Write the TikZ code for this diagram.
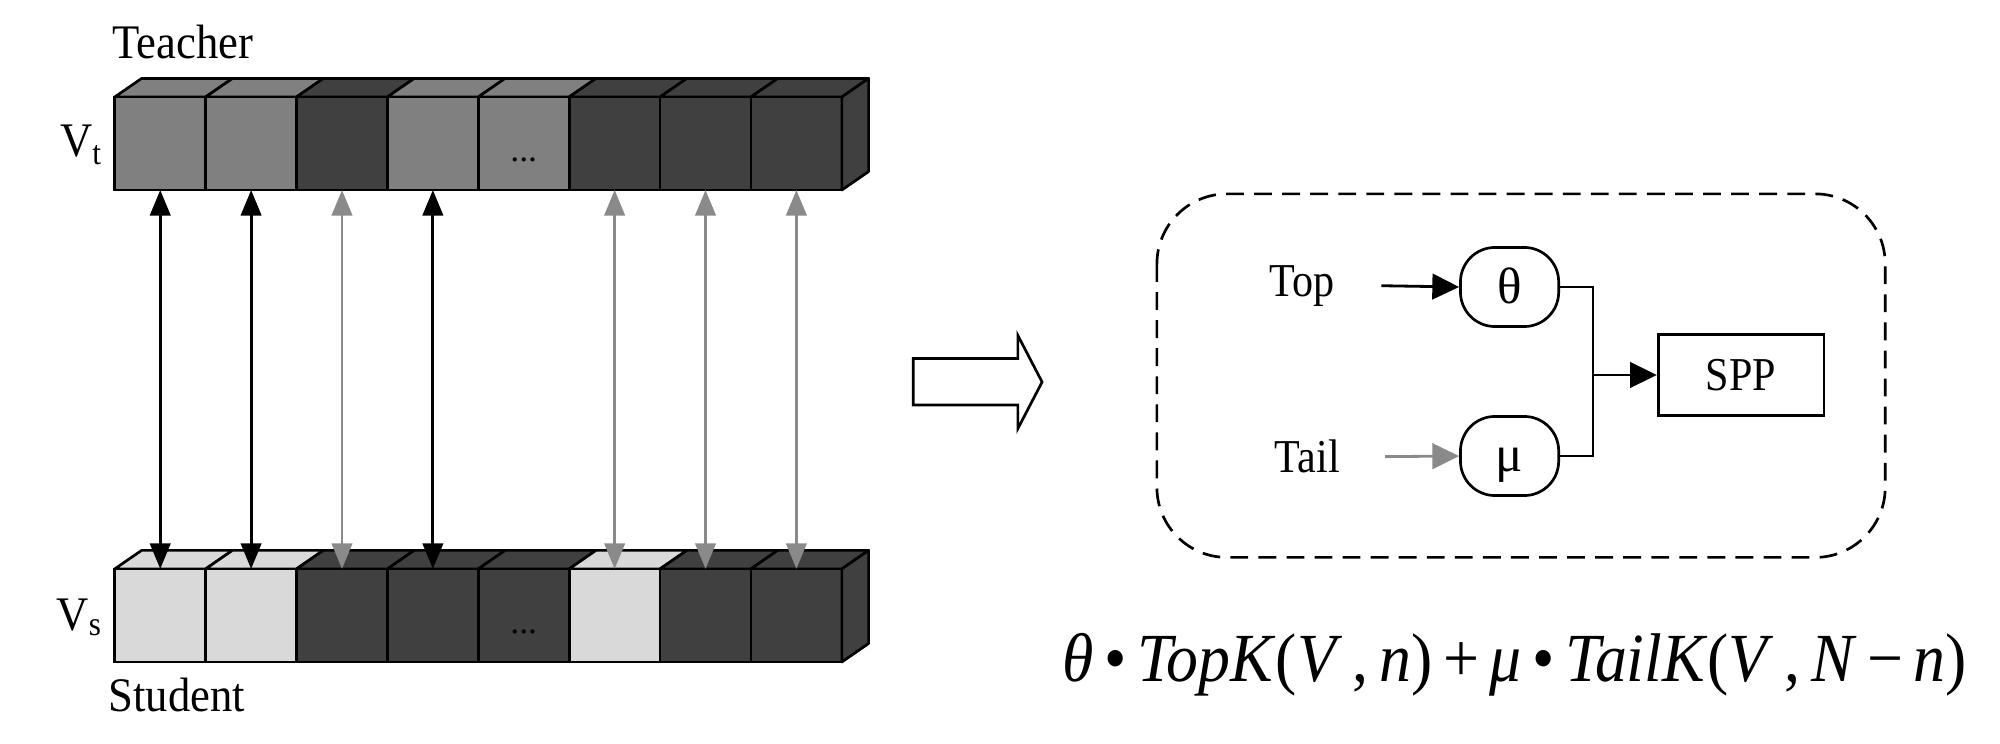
\documentclass[tikz,border=0pt]{standalone}
\usepackage{fontspec}
\setmainfont{Liberation Serif}
\usetikzlibrary{arrows.meta,calc}
\definecolor{cmid}{HTML}{808080}
\definecolor{cdark}{HTML}{404040}
\definecolor{clight}{HTML}{D9D9D9}
\definecolor{cgray}{HTML}{8A8A8A}
\begin{document}
\begin{tikzpicture}[x=1pt,y=-1pt,
  cell/.style={draw=black, line width=2.1pt, minimum width=71.25pt, minimum height=73pt, inner sep=0pt, outer sep=0pt},
  face/.style={draw=black, line width=2.1pt, line join=round},
  link/.style={line width=2.2pt, {Triangle[length=20pt,width=16pt]}-{Triangle[length=20pt,width=16pt]}},
  flow/.style={line width=2.2pt, -{Triangle[length=21pt,width=20pt]}},
  lbl/.style={font=\fontsize{35}{40}\selectfont, inner sep=0pt},
  rlbl/.style={font=\fontsize{33}{38}\selectfont, inner sep=0pt, yscale=1.12},
  knob/.style={draw, line width=2.1pt, rounded corners=27pt, minimum width=77pt, minimum height=62pt, inner sep=0pt},
  knobtxt/.style={font=\fontsize{40}{44}\selectfont, inner sep=0pt},
  box/.style={draw, line width=2.1pt, minimum width=130pt, minimum height=64pt, inner sep=0pt, font=\fontsize{33}{38}\selectfont},
  dotsl/.style={font=\fontsize{28}{28}\selectfont, inner sep=0pt, anchor=base}
]
\useasboundingbox (0,0) rectangle (1568,583);
% cells
\foreach \i/\ct/\cs in {1/cmid/clight,2/cmid/clight,3/cdark/cdark,4/cmid/cdark,5/cmid/cdark,6/cdark/clight,7/cdark/cdark,8/cdark/cdark}{
  \pgfmathsetmacro\xl{90+71.25*(\i-1)}
  \pgfmathsetmacro\xr{\xl+71.25}
  \draw[face, fill=\ct] (\xl,76) -- ({\xl+21},61.5) -- ({\xr+21},61.5) -- (\xr,76) -- cycle;
  \node[cell, fill=\ct] (t\i) at ({\xl+35.625},112.5) {};
  \draw[face, fill=\cs] (\xl,446) -- ({\xl+21},431.5) -- ({\xr+21},431.5) -- (\xr,446) -- cycle;
  \node[cell, fill=\cs] (s\i) at ({\xl+35.625},482.5) {};
}
\draw[face, fill=cdark] (t8.north east) -- ++(21,-14.5) -- ++(0,73) -- (t8.south east) -- cycle;
\draw[face, fill=cdark] (s8.north east) -- ++(21,-14.5) -- ++(0,73) -- (s8.south east) -- cycle;
\node[dotsl] (dt) at ($(t5.center)+(0,14)$) {...};
\node[dotsl] (ds) at ($(s5.center)+(0,14)$) {...};
% arrows
\foreach \i/\c in {1/black,2/black,3/cgray,4/black,6/cgray,7/cgray,8/cgray}
  \draw[link, draw=\c, fill=\c] (t\i.south) -- (s\i.north);
% labels
\node[lbl, anchor=base west, yscale=1.08] (teacher) at (88,46) {Teacher};
\node[lbl, anchor=base west, yscale=1.08] (student) at (85,558) {Student};
\node[lbl, anchor=base east, yscale=1.08] (vt) at (80,123) {V\textsubscript{t}};
\node[lbl, anchor=base east, yscale=1.08] (vs) at (80,494) {V\textsubscript{s}};
% block arrow
\draw[line width=2.1pt, line join=miter] (716,281) -- (798,281) -- (798,263) -- (817,299.5) -- (798,336) -- (798,317.5) -- (716,317.5) -- cycle;
% dashed box
\draw[line width=2.1pt, dash pattern=on 14pt off 8pt, rounded corners=55pt] (907,152) rectangle (1478,437);
% right nodes
\node[rlbl] (top) at (1021,224) {Top};
\node[rlbl] (tail) at (1025,358) {Tail};
\node[knob] (theta) at (1183.5,225) {};
\node[knob] (mu) at (1183.5,357.5) {};
\node[knobtxt, anchor=base] (thetatxt) at (1183.5,238) {θ};
\node[knobtxt, anchor=base] (mutxt) at (1183.5,370) {μ};
\node[box] (spp) at (1365,294) {\scalebox{1}[1.12]{SPP}};
\coordinate (j) at (1249,294);
\coordinate (topS) at (1083,224);
\coordinate (tailS) at (1086,358);
\draw[flow] (topS) -- (theta.west);
\draw[flow, draw=cgray, fill=cgray] (tailS) -- (mu.west);
\draw[line width=2.1pt] (theta.east) -| (j) |- (mu.east);
\draw[flow] (j) -- (spp.west);
% formula
\node[font=\fontsize{50}{56}\selectfont, inner sep=0pt, anchor=base, yscale=1.08] (formula) at (1187.5,534)
  {\textit{θ}\,•\,\textit{TopK}(\textit{V}\,,\,\textit{n})\,+\,\textit{μ}\,•\,\textit{TailK}(\textit{V}\,,\,\textit{N}\,−\,\textit{n})};
\end{tikzpicture}
\end{document}
